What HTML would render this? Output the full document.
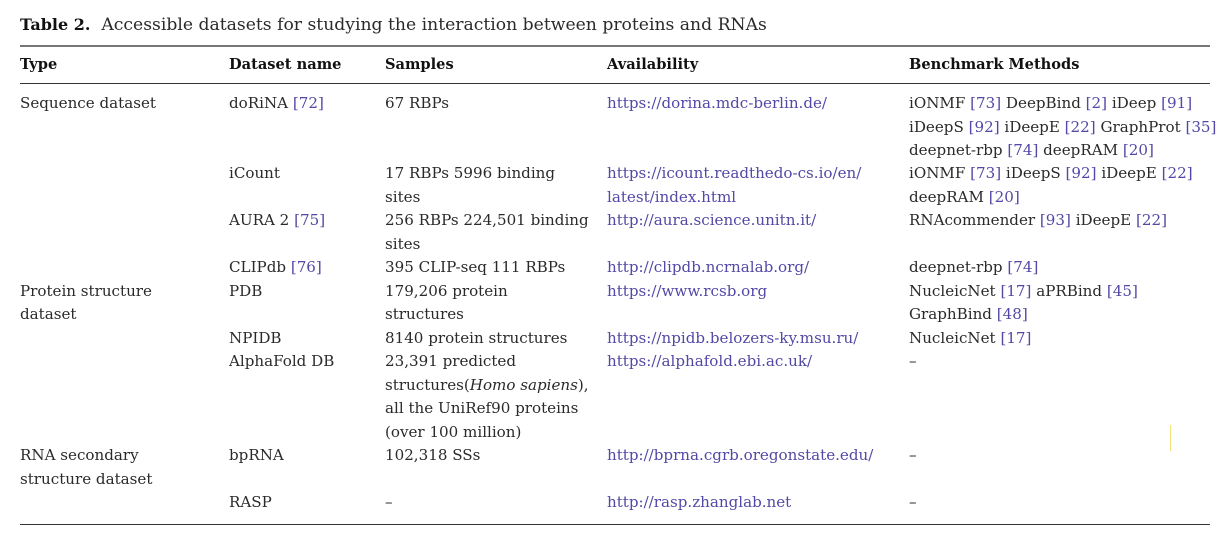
<!DOCTYPE html>
<html><head><meta charset="utf-8"><style>
html,body{margin:0;padding:0;background:#fff;}
body{width:1232px;height:536px;position:relative;overflow:hidden;font-family:"DejaVu Serif","Liberation Serif",serif;font-size:15.1px;color:#2a2a2a;}
.t{position:absolute;white-space:nowrap;line-height:22px;height:22px;}
.b{font-weight:bold;color:#111;font-size:14.6px;}
.c{color:#5248a6;}
.rule{position:absolute;left:20px;width:1190px;background:#333;}
</style></head><body>
<div class="t" style="left:20px;top:14px;font-size:17.2px;"><span class="b" style="font-size:16px">Table 2.</span>&nbsp; Accessible datasets for studying the interaction between proteins and RNAs</div>
<div class="rule" style="top:45px;height:2px;background:#777;"></div>
<div class="t b" style="left:20px;top:54px;">Type</div>
<div class="t b" style="left:229px;top:54px;">Dataset name</div>
<div class="t b" style="left:385px;top:54px;">Samples</div>
<div class="t b" style="left:607px;top:54px;">Availability</div>
<div class="t b" style="left:909px;top:54px;">Benchmark Methods</div>
<div class="rule" style="top:83px;height:1px;"></div>

<div class="t" style="left:20px;top:92px;">Sequence dataset</div>
<div class="t" style="left:229px;top:92px;">doRiNA <span class="c">[72]</span></div>
<div class="t" style="left:385px;top:92px;">67 RBPs</div>
<div class="t c" style="left:607px;top:92px;">https://dorina.mdc-berlin.de/</div>
<div class="t" style="left:909px;top:92px;">iONMF <span class="c">[73]</span> DeepBind <span class="c">[2]</span> iDeep <span class="c">[91]</span></div>
<div class="t" style="left:909px;top:116px;">iDeepS <span class="c">[92]</span> iDeepE <span class="c">[22]</span> GraphProt <span class="c">[35]</span></div>
<div class="t" style="left:909px;top:139px;">deepnet-rbp <span class="c">[74]</span> deepRAM <span class="c">[20]</span></div>

<div class="t" style="left:229px;top:162px;">iCount</div>
<div class="t" style="left:385px;top:162px;">17 RBPs 5996 binding</div>
<div class="t" style="left:385px;top:186px;">sites</div>
<div class="t c" style="left:607px;top:162px;">https://icount.readthedo-cs.io/en/</div>
<div class="t c" style="left:607px;top:186px;">latest/index.html</div>
<div class="t" style="left:909px;top:162px;">iONMF <span class="c">[73]</span> iDeepS <span class="c">[92]</span> iDeepE <span class="c">[22]</span></div>
<div class="t" style="left:909px;top:186px;">deepRAM <span class="c">[20]</span></div>

<div class="t" style="left:229px;top:209px;">AURA 2 <span class="c">[75]</span></div>
<div class="t" style="left:385px;top:209px;">256 RBPs 224,501 binding</div>
<div class="t" style="left:385px;top:233px;">sites</div>
<div class="t c" style="left:607px;top:209px;">http://aura.science.unitn.it/</div>
<div class="t" style="left:909px;top:209px;">RNAcommender <span class="c">[93]</span> iDeepE <span class="c">[22]</span></div>

<div class="t" style="left:229px;top:256px;">CLIPdb <span class="c">[76]</span></div>
<div class="t" style="left:385px;top:256px;">395 CLIP-seq 111 RBPs</div>
<div class="t c" style="left:607px;top:256px;">http://clipdb.ncrnalab.org/</div>
<div class="t" style="left:909px;top:256px;">deepnet-rbp <span class="c">[74]</span></div>

<div class="t" style="left:20px;top:280px;">Protein structure</div>
<div class="t" style="left:20px;top:303px;">dataset</div>
<div class="t" style="left:229px;top:280px;">PDB</div>
<div class="t" style="left:385px;top:280px;">179,206 protein</div>
<div class="t" style="left:385px;top:303px;">structures</div>
<div class="t c" style="left:607px;top:280px;">https://www.rcsb.org</div>
<div class="t" style="left:909px;top:280px;">NucleicNet <span class="c">[17]</span> aPRBind <span class="c">[45]</span></div>
<div class="t" style="left:909px;top:303px;">GraphBind <span class="c">[48]</span></div>

<div class="t" style="left:229px;top:327px;">NPIDB</div>
<div class="t" style="left:385px;top:327px;">8140 protein structures</div>
<div class="t c" style="left:607px;top:327px;">https://npidb.belozers-ky.msu.ru/</div>
<div class="t" style="left:909px;top:327px;">NucleicNet <span class="c">[17]</span></div>

<div class="t" style="left:229px;top:350px;">AlphaFold DB</div>
<div class="t" style="left:385px;top:350px;">23,391 predicted</div>
<div class="t" style="left:385px;top:374px;">structures(<i>Homo sapiens</i>),</div>
<div class="t" style="left:385px;top:397px;">all the UniRef90 proteins</div>
<div class="t" style="left:385px;top:421px;">(over 100 million)</div>
<div class="t c" style="left:607px;top:350px;">https://alphafold.ebi.ac.uk/</div>
<div class="t" style="left:909px;top:350px;">–</div>

<div style="position:absolute;left:1170px;top:425px;width:1px;height:26px;background:#f3e27a;"></div>

<div class="t" style="left:20px;top:444px;">RNA secondary</div>
<div class="t" style="left:20px;top:468px;">structure dataset</div>
<div class="t" style="left:229px;top:444px;">bpRNA</div>
<div class="t" style="left:385px;top:444px;">102,318 SSs</div>
<div class="t c" style="left:607px;top:444px;">http://bprna.cgrb.oregonstate.edu/</div>
<div class="t" style="left:909px;top:444px;">–</div>

<div class="t" style="left:229px;top:491px;">RASP</div>
<div class="t" style="left:385px;top:491px;">–</div>
<div class="t c" style="left:607px;top:491px;">http://rasp.zhanglab.net</div>
<div class="t" style="left:909px;top:491px;">–</div>

<div class="rule" style="top:524px;height:1px;"></div>
</body></html>
